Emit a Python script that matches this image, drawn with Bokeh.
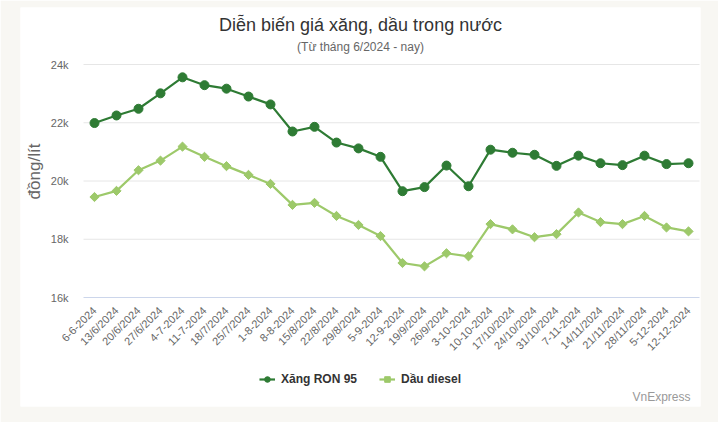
import math
from bokeh.plotting import figure
from bokeh.models import Range1d, Legend, LegendItem, Label
from bokeh.core.properties import value
from bokeh.embed import file_html
from bokeh.resources import INLINE

dates = ["6-6-2024", "13/6/2024", "20/6/2024", "27/6/2024", "4-7-2024", "11-7-2024",
         "18/7/2024", "25/7/2024", "1-8-2024", "8-8-2024", "15/8/2024", "22/8/2024",
         "29/8/2024", "5-9-2024", "12-9-2024", "19/9/2024", "26/9/2024", "3-10-2024",
         "10-10-2024", "17/10/2024", "24/10/2024", "31/10/2024", "7-11-2024", "14/11/2024",
         "21/11/2024", "28/11/2024", "5-12-2024", "12-12-2024"]

ron95 = [21990, 22250, 22480, 23010, 23560, 23290, 23170, 22900, 22630, 21700,
         21860, 21320, 21120, 20830, 19650, 19790, 20530, 19820, 21075, 20970,
         20900, 20520, 20870, 20610, 20545, 20870, 20580, 20610]

diesel = [19450, 19660, 20370, 20700, 21180, 20830, 20510, 20210, 19900, 19180,
          19250, 18800, 18490, 18110, 17185, 17070, 17520, 17415, 18520, 18340,
          18070, 18175, 18920, 18590, 18520, 18800, 18405, 18270]

y_ticks = [16000, 18000, 20000, 22000, 24000]
y_tick_labels = ["16k", "18k", "20k", "22k", "24k"]

TITLE = "Diễn biến giá xăng, dầu trong nước"
SUBTITLE = "(Từ tháng 6/2024 - nay)"
Y_TITLE = "đồng/lít"
CREDIT = "VnExpress"
SERIES = ["Xăng RON 95", "Dầu diesel"]

C_RON = "#2e7b34"
C_DSL = "#9dc96a"
FONT = "Liberation Sans"

xs = list(range(len(dates)))

# layout geometry (pixels of the page) -> data space helpers
X0_PX, X_STEP = 94.0, 22.0            # first category centre, category width
Y16_PX, PX_PER_K = 297.0, 29.125      # pixel of 16k, pixels per 1000


def dx(px):
    return (px - X0_PX) / X_STEP


def dy(py):
    return 16000 + (Y16_PX - py) / PX_PER_K * 1000


CARD_L, CARD_R, CARD_T, CARD_B = 20, 700, 7, 406

p = figure(width=718, height=422,
           x_range=Range1d(dx(CARD_L), dx(CARD_R)), y_range=Range1d(dy(CARD_B), dy(CARD_T)),
           output_backend="svg", toolbar_location=None,
           x_axis_location=None, y_axis_location=None,
           min_border_left=CARD_L, min_border_right=718 - CARD_R,
           min_border_top=CARD_T, min_border_bottom=422 - CARD_B,
           border_fill_color="#f8f7f3", background_fill_color="white",
           outline_line_color=None)
p.grid.visible = False

# horizontal grid lines (the bottom one is the x axis line)
xl, xr = -0.5, len(dates) - 0.5
p.segment(x0=[xl] * (len(y_ticks) - 1), x1=[xr] * (len(y_ticks) - 1),
          y0=y_ticks[1:], y1=y_ticks[1:], line_color="#e6e6e6", line_width=1)
p.segment(x0=[xl], x1=[xr], y0=[y_ticks[0]], y1=[y_ticks[0]],
          line_color="#ccd6eb", line_width=1)

# y tick labels
p.text(x=[dx(68)] * len(y_ticks), y=y_ticks, text=y_tick_labels,
       text_align="right", text_baseline="middle", text_font=value(FONT),
       text_font_size="11px", text_color="#666666")

# y axis title
p.text(x=[dx(34)], y=[dy(171)], text=[Y_TITLE], angle=math.pi / 2,
       text_align="center", text_baseline="middle", text_font=value(FONT),
       text_font_size="17px", text_color="#666666")

# x tick labels (rotated)
p.text(x=xs, y=[dy(308)] * len(xs), text=dates, angle=math.pi / 4, x_offset=0,
       text_align="right", text_baseline="middle", text_font=value(FONT),
       text_font_size="11px", text_color="#666666")

# series
l1 = p.line(xs, ron95, line_color=C_RON, line_width=2.2)
c1 = p.scatter(xs, ron95, size=9, marker="circle", fill_color=C_RON, line_color=C_RON)
l2 = p.line(xs, diesel, line_color=C_DSL, line_width=2.2)
d2 = p.scatter(xs, diesel, size=6.5, marker="square", angle=math.pi / 4,
               fill_color=C_DSL, line_color=C_DSL)

legend = Legend(items=[LegendItem(label=SERIES[0], renderers=[l1, c1]),
                       LegendItem(label=SERIES[1], renderers=[l2, d2])],
                orientation="horizontal", location="bottom_center",
                border_line_color=None, background_fill_alpha=0,
                label_text_font=FONT, label_text_font_size="12px",
                label_text_font_style="bold", label_text_color="#333333",
                glyph_width=16, glyph_height=14, label_standoff=6,
                spacing=22, padding=4, margin=20)
p.add_layout(legend)

# titles and credit
p.add_layout(Label(x=dx(360), y=dy(24), text=TITLE, text_font=FONT,
                   text_font_size="18px", text_color="#333333",
                   text_align="center", text_baseline="middle"))
p.add_layout(Label(x=dx(360), y=dy(46), text=SUBTITLE, text_font=FONT,
                   text_font_size="12px", text_color="#666666",
                   text_align="center", text_baseline="middle"))
p.add_layout(Label(x=dx(690), y=dy(396), text=CREDIT, text_font=FONT,
                   text_font_size="12px", text_color="#999999",
                   text_align="right", text_baseline="middle"))

open("out.html", "w").write(file_html(p, INLINE))
